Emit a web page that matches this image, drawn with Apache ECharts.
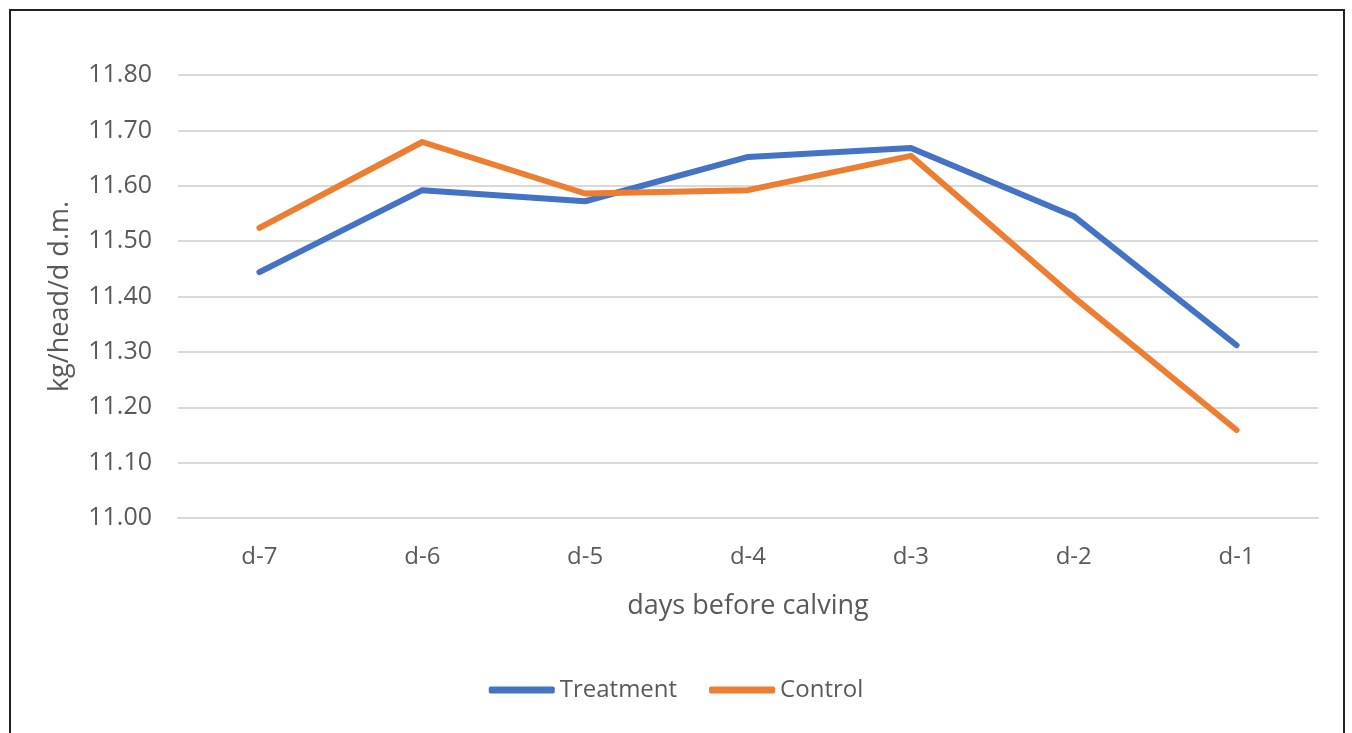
<!DOCTYPE html>
<html><head><meta charset="utf-8">
<script src="https://cdn.jsdelivr.net/npm/echarts@6/dist/echarts.min.js"></script>
<style>
html,body{margin:0;padding:0;background:#fff;}
#frame{position:absolute;left:9px;top:9px;width:1332px;height:740px;border:2px solid #222;border-bottom:none;}
#c{position:absolute;left:0;top:0;width:1352px;height:733px;}
</style></head><body>
<div id="frame"></div>
<div id="c"></div>
<script>
const categories = ['d-7','d-6','d-5','d-4','d-3','d-2','d-1'];
const treatment = [11.444, 11.592, 11.572, 11.652, 11.668, 11.545, 11.312];
const control = [11.524, 11.679, 11.586, 11.592, 11.654, 11.399, 11.159];
const font = 'Open Sans';
const txt = '#595959';
const chart = echarts.init(document.getElementById('c'));
chart.setOption({
  animation:false,
  grid:{left:178,right:34,top:75,bottom:215},
  xAxis:{type:'category',data:categories,boundaryGap:true,
    axisLine:{show:true,lineStyle:{color:'#d9d9d9',width:2}},axisTick:{show:false},
    axisLabel:{color:txt,fontFamily:font,fontSize:24,margin:27},
    name:'days before calving',nameLocation:'middle',nameGap:75,
    nameTextStyle:{color:txt,fontFamily:font,fontSize:27}},
  yAxis:{type:'value',min:11.0,max:11.8,interval:0.1,
    axisLine:{show:false},axisTick:{show:false},
    splitLine:{lineStyle:{color:'#d9d9d9',width:2}},
    axisLabel:{color:txt,fontFamily:font,fontSize:25,margin:26,formatter:v=>v.toFixed(2)},
    name:'kg/head/d d.m.',nameLocation:'middle',nameGap:104,
    nameTextStyle:{color:txt,fontFamily:font,fontSize:27}},
  legend:{top:673,left:'center',itemWidth:66,itemHeight:7,itemGap:32,
    icon:'roundRect',
    textStyle:{color:txt,fontFamily:font,fontSize:24},
    data:['Treatment','Control']},
  series:[
    {name:'Treatment',type:'line',data:treatment,symbol:'none',
      lineStyle:{color:'#4472C4',width:6,cap:'round',join:'round'},itemStyle:{color:'#4472C4'}},
    {name:'Control',type:'line',data:control,symbol:'none',
      lineStyle:{color:'#ED7D31',width:6,cap:'round',join:'round'},itemStyle:{color:'#ED7D31'}}
  ]
});
</script></body></html>
